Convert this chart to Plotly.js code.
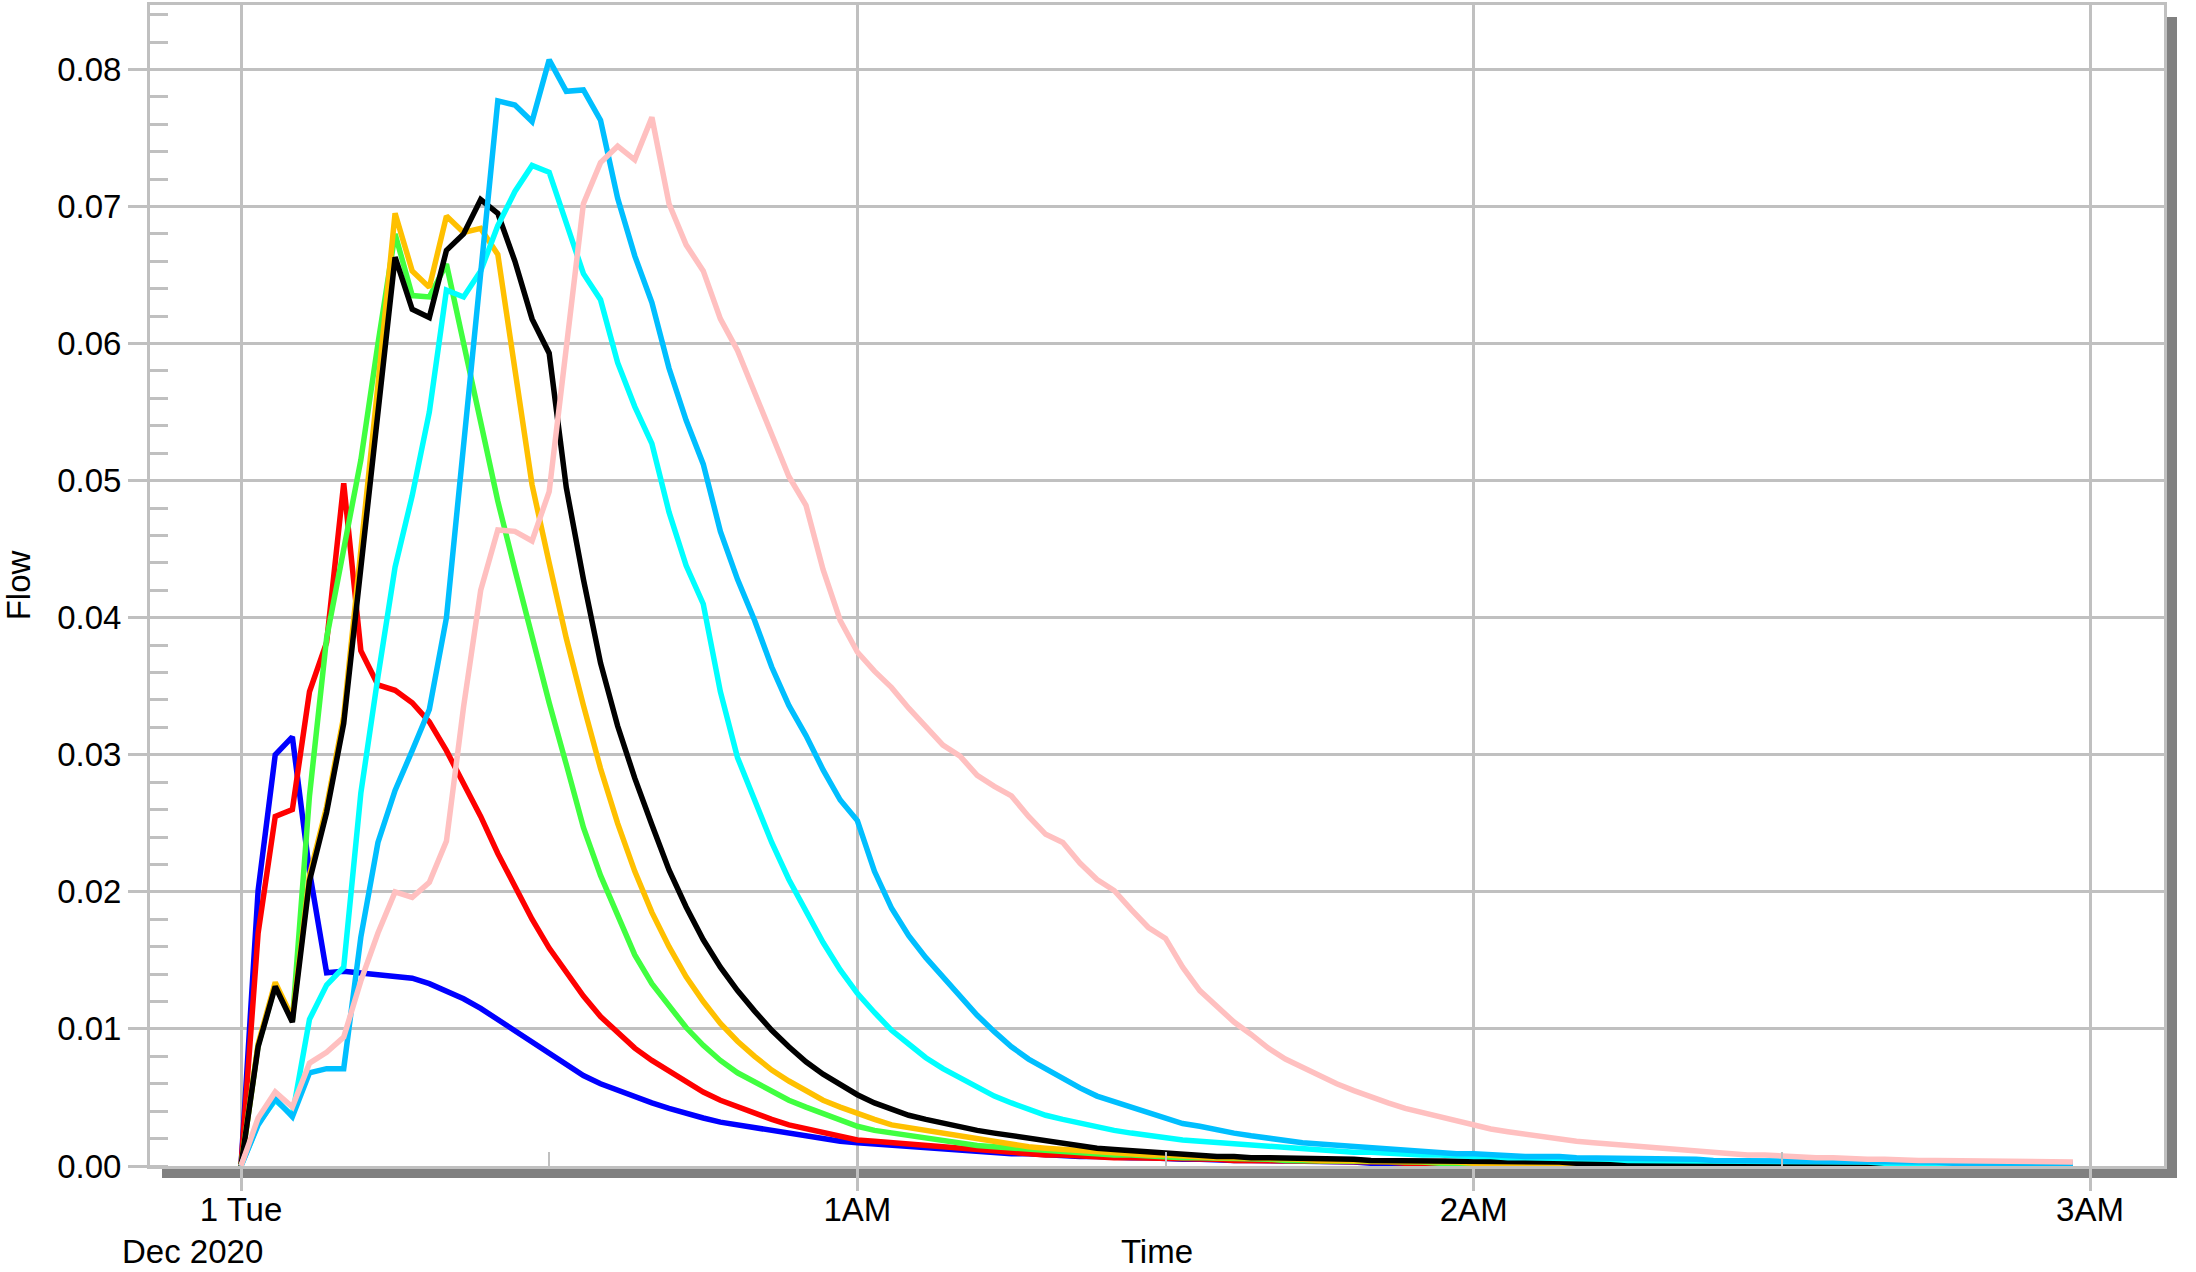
<!DOCTYPE html>
<html>
<head>
<meta charset="utf-8">
<script src="https://cdn.plot.ly/plotly-3.0.1.min.js"></script>
<style>
html,body{margin:0;padding:0;background:#ffffff;}
#chart{width:2196px;height:1272px;}
</style>
</head>
<body>
<div id="chart"></div>
<script>
// ---- Data ----
// Sampling: one value every 100 seconds from 2020-12-01 00:00:00
const startTimeUTC = Date.UTC(2020, 11, 1, 0, 0, 0);
const stepSeconds = 100;

const seriesBlue = [
0, 0.0201, 0.0300, 0.0313, 0.0215, 0.0141, 0.0142, 0.0141, 0.0140, 0.0139,
0.0137, 0.0133, 0.0128, 0.0122, 0.0115, 0.0107, 0.0099, 0.0091, 0.0082, 0.0074,
0.0066, 0.0060, 0.0055, 0.0050, 0.0046, 0.0042, 0.0038, 0.0035, 0.0032, 0.0030,
0.0027, 0.0025, 0.0023, 0.0021, 0.0020, 0.0018, 0.0017, 0.0016, 0.0015, 0.0014,
0.0013, 0.0012, 0.0011, 0.0011, 0.0010, 0.0009, 0.0009, 0.0008, 0.0008, 0.0007,
0.0007, 0.0006, 0.0006, 0.0006, 0.0005, 0.0005, 0.0005, 0.0004, 0.0004, 0.0004,
0.0004, 0.0003, 0.0003, 0.0003, 0.0003, 0.0003, 0.0002, 0.0002, 0.0002, 0.0002,
0.0002, 0.0002, 0.0002, 0.0002, 0.0001, 0.0001, 0.0001, 0.0001, 0.0001, 0.0001,
0.0001, 0.0001, 0.0001, 0.0001, 0.0001, 0.0001, 0.0001, 0.0001, 0.0001, 0.0001,
0.0001, 0.0001, 0.0001, 0.0001, 0.0001, 0.0001, 0.0001, 0.0001, 0.0001, 0.0001,
0.0001, 0.0001, 0.0001, 0.0001, 0.0001, 0.0001, 0.0001, 0.0001
];

const seriesRed = [
0, 0.0170, 0.0255, 0.0260, 0.0346, 0.0382, 0.0498, 0.0376, 0.0351, 0.0347,
0.0338, 0.0324, 0.0303, 0.0280, 0.0255, 0.0228, 0.0203, 0.0180, 0.0159, 0.0141,
0.0124, 0.0109, 0.0097, 0.0086, 0.0077, 0.0069, 0.0061, 0.0054, 0.0048, 0.0043,
0.0038, 0.0034, 0.0030, 0.0027, 0.0024, 0.0021, 0.0019, 0.0018, 0.0017, 0.0015,
0.0014, 0.0013, 0.0012, 0.0011, 0.0010, 0.0009, 0.0009, 0.0008, 0.0008, 0.0007,
0.0007, 0.0006, 0.0006, 0.0006, 0.0005, 0.0005, 0.0005, 0.0005, 0.0004, 0.0004,
0.0004, 0.0004, 0.0003, 0.0003, 0.0003, 0.0003, 0.0003, 0.0003, 0.0002, 0.0002,
0.0002, 0.0002, 0.0002, 0.0002, 0.0002, 0.0002, 0.0002, 0.0002, 0.0002, 0.0002,
0.0002, 0.0002, 0.0001, 0.0001, 0.0001, 0.0001, 0.0001, 0.0001, 0.0001, 0.0001,
0.0001, 0.0001, 0.0001, 0.0001, 0.0001, 0.0001, 0.0001, 0.0001, 0.0001, 0.0001,
0.0001, 0.0001, 0.0001, 0.0001, 0.0001, 0.0001, 0.0001, 0.0001
];

const seriesGreen = [
0, 0.0088, 0.0132, 0.0106, 0.0270, 0.0385, 0.0450, 0.0515, 0.0600, 0.0680,
0.0635, 0.0634, 0.0658, 0.0600, 0.0540, 0.0485, 0.0435, 0.0386, 0.0338, 0.0293,
0.0247, 0.0212, 0.0182, 0.0154, 0.0133, 0.0117, 0.0101, 0.0088, 0.0077, 0.0068,
0.0061, 0.0054, 0.0048, 0.0043, 0.0038, 0.0034, 0.0029, 0.0026, 0.0024, 0.0022,
0.0020, 0.0018, 0.0016, 0.0015, 0.0014, 0.0013, 0.0012, 0.0011, 0.0010, 0.0009,
0.0009, 0.0008, 0.0008, 0.0007, 0.0007, 0.0006, 0.0006, 0.0006, 0.0005, 0.0005,
0.0005, 0.0004, 0.0004, 0.0004, 0.0004, 0.0003, 0.0003, 0.0003, 0.0003, 0.0003,
0.0002, 0.0002, 0.0002, 0.0002, 0.0002, 0.0002, 0.0002, 0.0002, 0.0002, 0.0002,
0.0002, 0.0002, 0.0002, 0.0002, 0.0001, 0.0001, 0.0001, 0.0001, 0.0001, 0.0001,
0.0001, 0.0001, 0.0001, 0.0001, 0.0001, 0.0001, 0.0001, 0.0001, 0.0001, 0.0001,
0.0001, 0.0001, 0.0001, 0.0001, 0.0001, 0.0001, 0.0001, 0.0001
];

const seriesOrange = [
0, 0.0089, 0.0134, 0.0108, 0.0212, 0.0262, 0.0328, 0.0445, 0.0570, 0.0695,
0.0653, 0.0641, 0.0693, 0.0681, 0.0684, 0.0665, 0.0580, 0.0497, 0.0440, 0.0385,
0.0336, 0.0290, 0.0250, 0.0215, 0.0185, 0.0160, 0.0138, 0.0120, 0.0104, 0.0091,
0.0080, 0.0070, 0.0062, 0.0055, 0.0048, 0.0043, 0.0038, 0.0034, 0.0030, 0.0028,
0.0025, 0.0023, 0.0021, 0.0019, 0.0017, 0.0016, 0.0014, 0.0013, 0.0012, 0.0011,
0.0010, 0.0009, 0.0009, 0.0008, 0.0008, 0.0007, 0.0007, 0.0006, 0.0006, 0.0006,
0.0005, 0.0005, 0.0005, 0.0004, 0.0004, 0.0004, 0.0004, 0.0003, 0.0003, 0.0003,
0.0003, 0.0003, 0.0002, 0.0002, 0.0002, 0.0002, 0.0002, 0.0002, 0.0002, 0.0002,
0.0002, 0.0002, 0.0002, 0.0002, 0.0002, 0.0002, 0.0001, 0.0001, 0.0001, 0.0001,
0.0001, 0.0001, 0.0001, 0.0001, 0.0001, 0.0001, 0.0001, 0.0001, 0.0001, 0.0001,
0.0001, 0.0001, 0.0001, 0.0001, 0.0001, 0.0001, 0.0001, 0.0001
];

const seriesBlack = [
0, 0.0087, 0.0131, 0.0105, 0.0208, 0.0258, 0.0323, 0.0435, 0.0550, 0.0663,
0.0625, 0.0619, 0.0668, 0.0680, 0.0705, 0.0695, 0.0660, 0.0618, 0.0593, 0.0495,
0.0428, 0.0367, 0.0321, 0.0283, 0.0249, 0.0216, 0.0189, 0.0165, 0.0145, 0.0128,
0.0113, 0.0099, 0.0087, 0.0076, 0.0067, 0.0059, 0.0052, 0.0046, 0.0041, 0.0037,
0.0034, 0.0031, 0.0029, 0.0026, 0.0024, 0.0022, 0.0020, 0.0018, 0.0016, 0.0014,
0.0013, 0.0012, 0.0011, 0.0010, 0.0009, 0.0008, 0.0008, 0.0007, 0.0007, 0.0006,
0.0006, 0.0006, 0.0005, 0.0005, 0.0005, 0.0005, 0.0004, 0.0004, 0.0004, 0.0004,
0.0003, 0.0003, 0.0003, 0.0003, 0.0003, 0.0003, 0.0003, 0.0003, 0.0002, 0.0002,
0.0002, 0.0002, 0.0002, 0.0002, 0.0002, 0.0002, 0.0002, 0.0002, 0.0002, 0.0002,
0.0002, 0.0002, 0.0001, 0.0001, 0.0001, 0.0001, 0.0001, 0.0001, 0.0001, 0.0001,
0.0001, 0.0001, 0.0001, 0.0001, 0.0001, 0.0001, 0.0001, 0.0001
];

const seriesCyan = [
0, 0.0031, 0.0048, 0.0037, 0.0107, 0.0132, 0.0145, 0.0272, 0.0357, 0.0437,
0.0489, 0.0550, 0.0639, 0.0634, 0.0653, 0.0686, 0.0711, 0.0730, 0.0725, 0.0688,
0.0651, 0.0632, 0.0586, 0.0554, 0.0527, 0.0477, 0.0438, 0.0410, 0.0346, 0.0298,
0.0267, 0.0236, 0.0209, 0.0185, 0.0163, 0.0143, 0.0126, 0.0112, 0.0099, 0.0089,
0.0079, 0.0071, 0.0064, 0.0057, 0.0051, 0.0046, 0.0041, 0.0037, 0.0034, 0.0031,
0.0028, 0.0026, 0.0024, 0.0022, 0.0021, 0.0019, 0.0018, 0.0017, 0.0016, 0.0015,
0.0014, 0.0013, 0.0012, 0.0012, 0.0011, 0.0010, 0.0010, 0.0009, 0.0009, 0.0008,
0.0008, 0.0007, 0.0007, 0.0007, 0.0006, 0.0006, 0.0006, 0.0005, 0.0005, 0.0005,
0.0005, 0.0004, 0.0004, 0.0004, 0.0004, 0.0004, 0.0003, 0.0003, 0.0003, 0.0003,
0.0003, 0.0003, 0.0003, 0.0003, 0.0003, 0.0003, 0.0002, 0.0002, 0.0002, 0.0002,
0.0002, 0.0002, 0.0002, 0.0002, 0.0002, 0.0002, 0.0002, 0.0002
];

const seriesSkyBlue = [
0, 0.0030, 0.0049, 0.0036, 0.0068, 0.0071, 0.0071, 0.0167, 0.0236, 0.0274,
0.0303, 0.0333, 0.0400, 0.0526, 0.0652, 0.0777, 0.0774, 0.0762, 0.0807, 0.0784,
0.0785, 0.0763, 0.0706, 0.0664, 0.0630, 0.0582, 0.0544, 0.0512, 0.0463, 0.0428,
0.0398, 0.0364, 0.0336, 0.0314, 0.0289, 0.0267, 0.0252, 0.0215, 0.0188, 0.0168,
0.0152, 0.0138, 0.0123, 0.0110, 0.0098, 0.0087, 0.0078, 0.0071, 0.0063, 0.0057,
0.0051, 0.0047, 0.0043, 0.0039, 0.0035, 0.0031, 0.0029, 0.0026, 0.0024, 0.0022,
0.0020, 0.0019, 0.0017, 0.0016, 0.0015, 0.0014, 0.0013, 0.0012, 0.0011, 0.0010,
0.0010, 0.0009, 0.0009, 0.0008, 0.0008, 0.0007, 0.0007, 0.0007, 0.0006, 0.0006,
0.0006, 0.0006, 0.0005, 0.0005, 0.0005, 0.0005, 0.0004, 0.0004, 0.0004, 0.0004,
0.0004, 0.0004, 0.0003, 0.0003, 0.0003, 0.0003, 0.0003, 0.0003, 0.0003, 0.0003,
0.0002, 0.0002, 0.0002, 0.0002, 0.0002, 0.0002, 0.0002, 0.0002
];

const seriesPink = [
0, 0.0035, 0.0054, 0.0043, 0.0075, 0.0083, 0.0094, 0.0135, 0.0170, 0.0200,
0.0196, 0.0207, 0.0237, 0.0335, 0.0420, 0.0464, 0.0463, 0.0456, 0.0492, 0.0600,
0.0702, 0.0732, 0.0744, 0.0734, 0.0765, 0.0702, 0.0672, 0.0653, 0.0618, 0.0595,
0.0565, 0.0535, 0.0503, 0.0482, 0.0435, 0.0398, 0.0375, 0.0361, 0.0349, 0.0334,
0.0321, 0.0307, 0.0299, 0.0285, 0.0277, 0.0270, 0.0255, 0.0242, 0.0236, 0.0221,
0.0209, 0.0201, 0.0187, 0.0174, 0.0166, 0.0145, 0.0128, 0.0116, 0.0105, 0.0096,
0.0086, 0.0078, 0.0072, 0.0065, 0.0060, 0.0055, 0.0050, 0.0046, 0.0042, 0.0039,
0.0035, 0.0032, 0.0030, 0.0027, 0.0025, 0.0023, 0.0021, 0.0020, 0.0018, 0.0017,
0.0016, 0.0015, 0.0014, 0.0012, 0.0011, 0.0011, 0.0010, 0.0009, 0.0008, 0.0008,
0.0007, 0.0007, 0.0006, 0.0006, 0.0005, 0.0005, 0.0005, 0.0004, 0.0004, 0.0004,
0.0004, 0.0003, 0.0003, 0.0003, 0.0003, 0.0003, 0.0003, 0.0003
];

const seriesList = [seriesBlue, seriesRed, seriesGreen, seriesOrange, seriesBlack, seriesCyan, seriesSkyBlue, seriesPink];
const seriesNames = ['Series 1', 'Series 2', 'Series 3', 'Series 4', 'Series 5', 'Series 6', 'Series 7', 'Series 8'];
const seriesColors = ['#0000ff', '#ff0000', '#40ff40', '#ffc000', '#000000', '#00ffff', '#00bfff', '#ffc0c0'];

const xTickVals = ['2020-12-01 00:00:00', '2020-12-01 01:00:00', '2020-12-01 02:00:00', '2020-12-01 03:00:00'];
const xTickText = ['1 Tue', '1AM', '2AM', '3AM'];
const xMinorVals = ['2020-12-01 00:30:00', '2020-12-01 01:30:00', '2020-12-01 02:30:00'];
const xTitleText = 'Time';
const yTitleText = 'Flow';
const dateLabelText = 'Dec 2020';

// ---- Build ----
function fmt(ms) {
  return new Date(ms).toISOString().slice(0, 19).replace('T', ' ');
}
const times = seriesBlue.map((_, k) => fmt(startTimeUTC + k * stepSeconds * 1000));

const traces = seriesList.map((ys, i) => ({
  type: 'scatter', mode: 'lines', name: seriesNames[i],
  x: times, y: ys,
  line: {color: seriesColors[i], width: 5.5},
  hoverinfo: 'skip'
}));

const W = 2196, H = 1272;
const L = 150, R = 32, T = 5, B = 106;
const pw = W - L - R, ph = H - T - B;
const px2x = px => (px - L) / pw;
const px2y = py => (H - B - py) / ph;

const gridC = '#c0c0c0';
const fontFam = '"Liberation Sans", Arial, Helvetica, sans-serif';
const fs = 33;

const layout = {
  width: W, height: H,
  margin: {l: L, r: R, t: T, b: B, pad: 0},
  paper_bgcolor: '#ffffff',
  plot_bgcolor: 'rgba(0,0,0,0)',
  showlegend: false,
  hovermode: false,
  font: {family: fontFam, size: fs, color: '#000000'},
  xaxis: {
    type: 'date',
    range: ['2020-11-30 23:51:08.5', '2020-12-01 03:07:12'],
    tickmode: 'array', tickvals: xTickVals, ticktext: xTickText,
    ticks: 'outside', ticklen: 22, tickwidth: 3, tickcolor: gridC,
    ticklabelstandoff: -10,
    showgrid: true, gridcolor: gridC, gridwidth: 3,
    showline: true, linecolor: gridC, linewidth: 3, mirror: true,
    zeroline: false,
    tickfont: {family: fontFam, size: fs, color: '#000'},
    minor: {tickmode: 'array', tickvals: xMinorVals, ticks: 'inside', ticklen: 14, tickwidth: 2, tickcolor: gridC, showgrid: false},
    title: {text: xTitleText, font: {family: fontFam, size: fs, color: '#000'}, standoff: 14},
    automargin: false
  },
  yaxis: {
    range: [0, 0.0847],
    tickmode: 'linear', tick0: 0, dtick: 0.01, tickformat: '.2f',
    ticks: 'outside', ticklen: 19, tickwidth: 3, tickcolor: gridC,
    showgrid: true, gridcolor: gridC, gridwidth: 3,
    showline: true, linecolor: gridC, linewidth: 3, mirror: true,
    zeroline: false,
    tickfont: {family: fontFam, size: fs, color: '#000'},
    minor: {dtick: 0.002, tick0: 0, ticks: 'inside', ticklen: 18, tickwidth: 3, tickcolor: gridC, showgrid: false},
    title: {text: yTitleText, font: {family: fontFam, size: fs, color: '#000'}, standoff: 18},
    automargin: false
  },
  shapes: [
    {type: 'rect', xref: 'paper', yref: 'paper', layer: 'below',
     x0: px2x(162), x1: px2x(2177), y0: px2y(1178), y1: px2y(17),
     fillcolor: '#808080', line: {width: 0}},
    {type: 'rect', xref: 'paper', yref: 'paper', layer: 'below',
     x0: 0, x1: 1, y0: 0, y1: 1,
     fillcolor: '#ffffff', line: {width: 0}}
  ],
  annotations: [
    {text: dateLabelText, xref: 'paper', yref: 'paper', x: px2x(192), y: px2y(1252),
     xanchor: 'center', yanchor: 'middle', showarrow: false,
     font: {family: fontFam, size: fs, color: '#000'}}
  ]
};

Plotly.newPlot('chart', traces, layout, {displayModeBar: false, staticPlot: true});
</script>
</body>
</html>
